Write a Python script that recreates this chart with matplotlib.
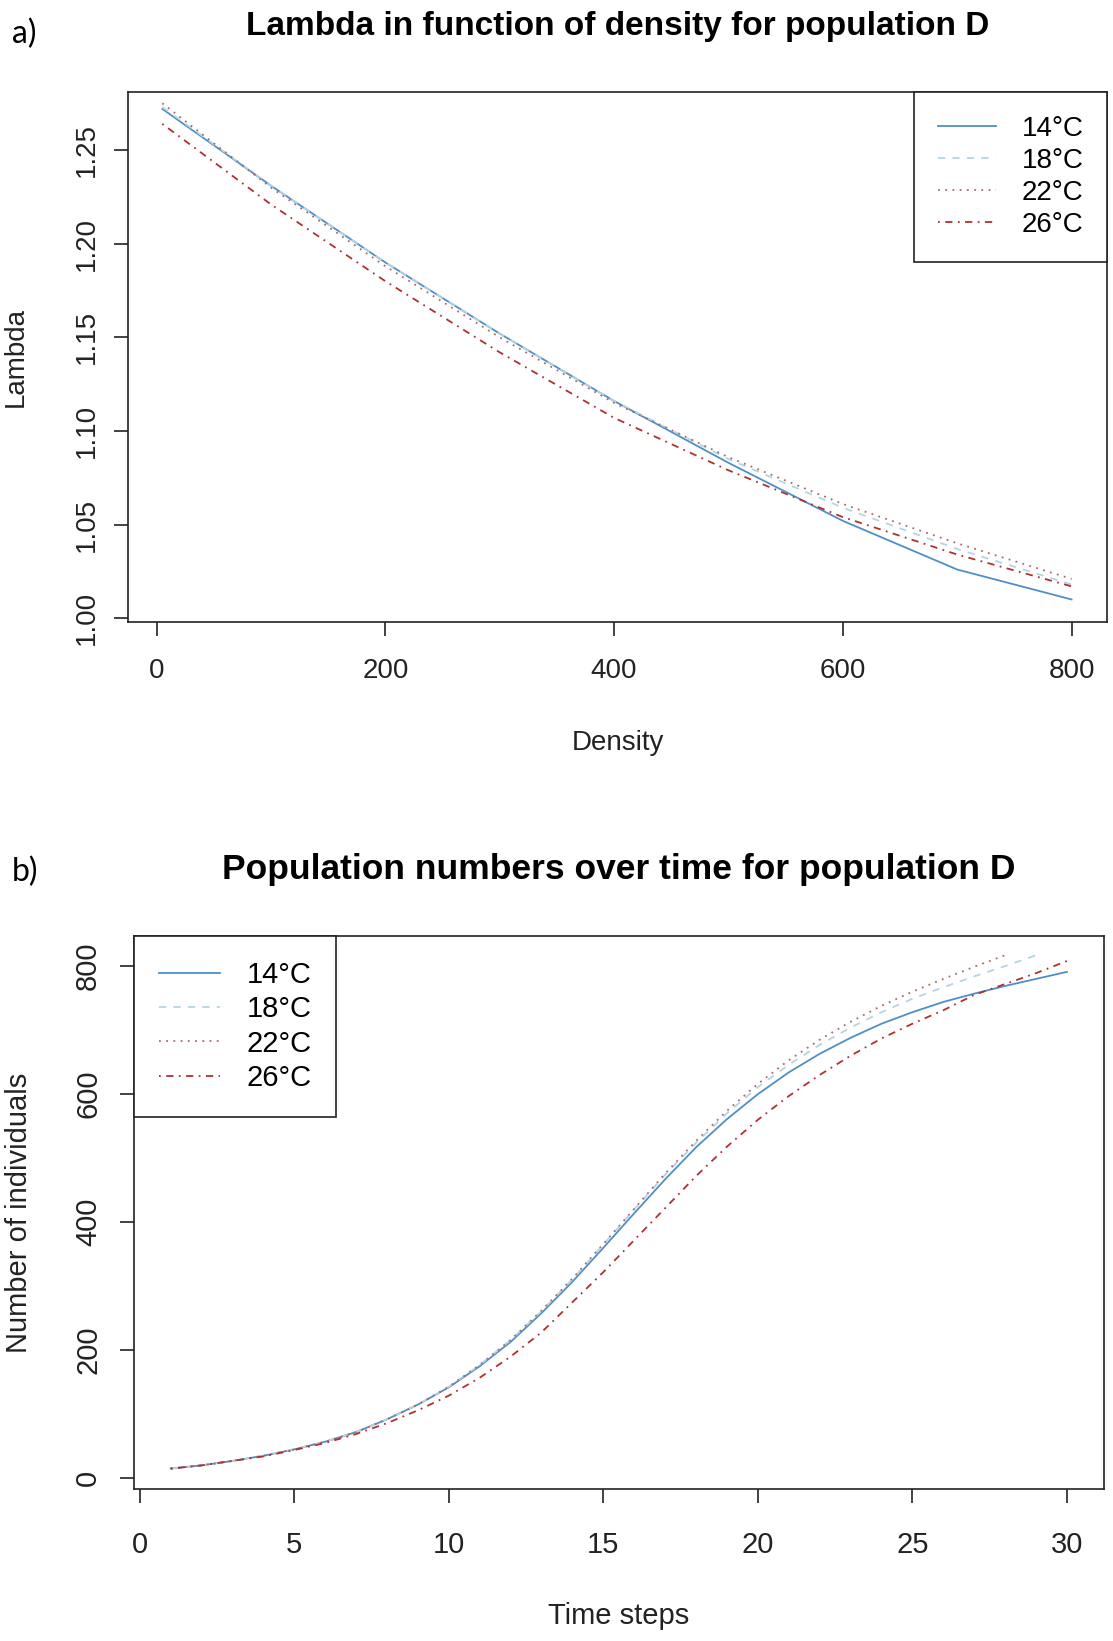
import matplotlib
matplotlib.use("Agg")
import matplotlib.pyplot as plt

plt.rcParams['font.family'] = ['Liberation Sans', 'DejaVu Sans']

# a) lambda vs density
density = [5, 100, 200, 300, 400, 500, 600, 700, 800]
lam_14 = [1.272, 1.231, 1.190, 1.152, 1.116, 1.083, 1.052, 1.026, 1.010]
lam_18 = [1.273, 1.231, 1.190, 1.152, 1.116, 1.085, 1.059, 1.037, 1.018]
lam_22 = [1.275, 1.230, 1.188, 1.150, 1.115, 1.086, 1.061, 1.040, 1.021]
lam_26 = [1.264, 1.221, 1.180, 1.142, 1.107, 1.079, 1.054, 1.034, 1.017]

# b) population numbers over time
steps = list(range(1, 31))
pop_14 = [15, 20, 27, 35, 45, 57, 72, 92, 115, 142, 175, 213, 258, 307, 360,
          414, 467, 517, 561, 600, 634, 663, 688, 710, 728, 744, 757, 769, 780, 791]
pop_18 = [15, 20, 27, 35, 45, 57, 72, 92, 115, 143, 177, 216, 261, 311, 365,
          420, 474, 524, 570, 611, 646, 677, 704, 728, 749, 767, 784, 800, 817]
pop_22 = [15, 20, 27, 35, 45, 57, 72, 92, 115, 143, 177, 216, 262, 312, 366,
          421, 476, 527, 574, 616, 653, 685, 713, 738, 760, 780, 799, 817]
pop_26 = [15, 20, 27, 34, 44, 55, 69, 86, 106, 129, 157, 190, 228, 275, 322,
          372, 422, 472, 518, 560, 597, 630, 660, 687, 710, 731, 755, 772, 789, 808]

labels = ['14°C', '18°C', '22°C', '26°C']
colors = ['#4f8fc6', '#b4d4e4', '#a86a6a', '#b03030']
styles = ['-', (0, (4, 4)), (0, (1, 3)), (0, (1, 3, 4, 3))]

fig = plt.figure(figsize=(11.13, 16.41), dpi=100)
ax1 = fig.add_axes([0.115, 0.621, 0.8796, 0.3229])
ax2 = fig.add_axes([0.1204, 0.0926, 0.8715, 0.3370])

for ys, c, ls, lab in zip([lam_14, lam_18, lam_22, lam_26], colors, styles, labels):
    ax1.plot(density, ys, color=c, linestyle=ls, lw=1.3, label=lab)
for ys, c, ls, lab in zip([pop_14, pop_18, pop_22, pop_26], colors, styles, labels):
    ax2.plot(steps[:len(ys)], ys, color=c, linestyle=ls, lw=1.3, label=lab)

ax1.set_xlim(-25, 831)
ax1.set_ylim(0.998, 1.281)
ax1.set_xticks([0, 200, 400, 600, 800])
ax1.set_yticks([1.00, 1.05, 1.10, 1.15, 1.20, 1.25])
ax1.set_yticklabels(['1.00', '1.05', '1.10', '1.15', '1.20', '1.25'])
ax2.set_xlim(-0.19, 31.2)
ax2.set_ylim(-17, 847)
ax2.set_xticks([0, 5, 10, 15, 20, 25, 30])
ax2.set_yticks([0, 200, 400, 600, 800])

for ax, fs, xpad, ypad in [(ax1, 20, 16, 10), (ax2, 21, 20, 13)]:
    for s in ax.spines.values():
        s.set_linewidth(1.2)
        s.set_color('#222222')
    ax.tick_params(direction='out', length=10, width=1.2, color='#222222',
                   labelsize=fs, labelcolor='#222222')
    ax.tick_params(axis='x', pad=xpad)
    ax.tick_params(axis='y', pad=ypad)
    for t in ax.get_yticklabels():
        t.set_rotation(90)
        t.set_va('center')
    leg_loc = 'upper right' if ax is ax1 else 'upper left'
    leg = ax.legend(loc=leg_loc, fontsize=fs, frameon=True, fancybox=False,
                    edgecolor='#222222', framealpha=1, borderaxespad=0,
                    handlelength=2.1, handletextpad=0.9, labelspacing=0.22,
                    borderpad=0.85)
    leg.get_frame().set_linewidth(1.2)

ax1.set_title('Lambda in function of density for population D', fontsize=24,
              fontweight='bold', pad=41)
ax2.set_title('Population numbers over time for population D', fontsize=25.5,
              fontweight='bold', pad=41)
ax1.set_xlabel('Density', fontsize=20, color='#222222')
ax1.set_ylabel('Lambda', fontsize=20, color='#222222')
ax2.set_xlabel('Time steps', fontsize=21, color='#222222')
ax2.set_ylabel('Number of individuals', fontsize=21, color='#222222')
ax1.xaxis.set_label_coords(0.5, -0.203)
ax1.yaxis.set_label_coords(-0.101, 0.5)
ax2.xaxis.set_label_coords(0.5, -0.205)
ax2.yaxis.set_label_coords(-0.104, 0.5)

fig.text(0.011, 1 - 34 / 1641, 'a)', fontsize=23, family='Lato', va='center')
fig.text(0.011, 1 - 872 / 1641, 'b)', fontsize=23, family='Lato', va='center')

fig.savefig('out.png', dpi=100)
